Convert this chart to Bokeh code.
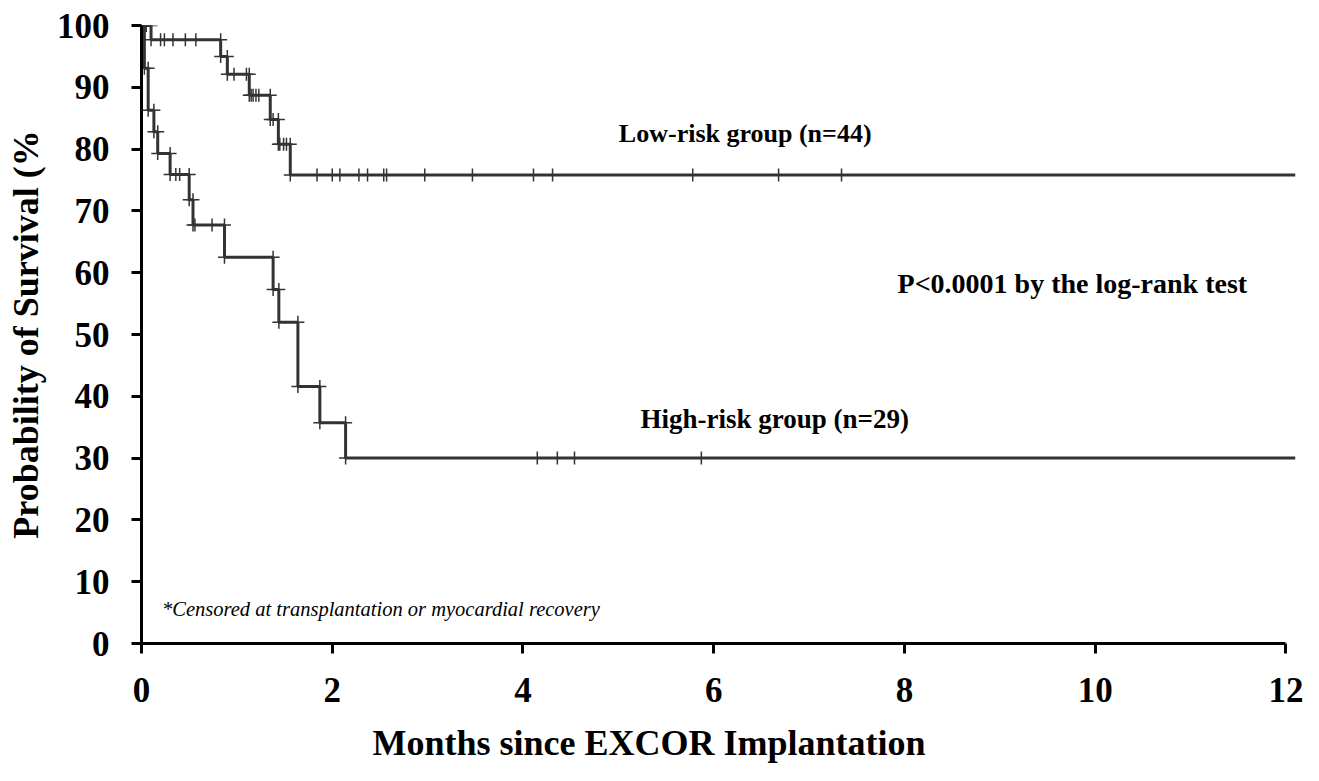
import numpy as np
from bokeh.plotting import figure
from bokeh.models import Range1d, FixedTicker, Label, Title
from bokeh.embed import file_html
from bokeh.resources import INLINE

# Kaplan-Meier estimates (months, % surviving)
low_times = [0.0, 0.10, 0.83, 0.90, 1.13, 1.35, 1.435, 1.56]
low_surv = [100.0, 97.7, 95.0, 92.1, 88.7, 84.8, 80.8, 75.8]
low_censored = [0.02, 0.05, 0.20, 0.24, 0.33, 0.46, 0.57, 0.97, 1.10, 1.15, 1.17,
                1.20, 1.23, 1.38, 1.45, 1.49, 1.52, 1.84, 2.00, 2.08, 2.28, 2.37,
                2.54, 2.57, 2.97, 3.47, 4.11, 4.31, 5.78, 6.68, 7.34]

high_times = [0.0, 0.03, 0.07, 0.13, 0.17, 0.30, 0.50, 0.54, 0.87, 1.38, 1.44,
              1.64, 1.87, 2.14]
high_surv = [100.0, 93.1, 86.3, 82.8, 79.3, 75.9, 71.8, 67.7, 62.5, 57.3, 52.0,
             41.6, 35.7, 30.0]
high_censored = [0.36, 0.40, 0.56, 0.74, 4.15, 4.36, 4.54, 5.87]

follow_up_end = 12.1
x_ticks = [0, 2, 4, 6, 8, 10, 12]
y_ticks = [0, 10, 20, 30, 40, 50, 60, 70, 80, 90, 100]

FONT = "Liberation Serif"
CURVE = "#333333"

p = figure(width=1319, height=781,
           x_range=Range1d(0, follow_up_end), y_range=Range1d(0, 100),
           output_backend="svg", toolbar_location=None,
           min_border_left=141, min_border_right=24,
           min_border_top=25, min_border_bottom=138)
p.outline_line_color = None
p.xgrid.visible = False
p.ygrid.visible = False
p.background_fill_color = "white"
p.border_fill_color = "white"

for ax in (p.xaxis[0], p.yaxis[0]):
    ax.axis_line_width = 3
    ax.axis_line_color = "black"
    ax.major_tick_line_width = 3
    ax.major_tick_line_color = "black"
    ax.major_tick_out = 10
    ax.major_tick_in = 0
    ax.minor_tick_line_color = None
    ax.major_label_text_font = FONT
    ax.major_label_text_font_style = "bold"
    ax.major_label_text_font_size = "35px"
    ax.major_label_text_color = "black"
    ax.axis_label_text_font = FONT
    ax.axis_label_text_font_style = "bold"
    ax.axis_label_text_font_size = "36px"
    ax.axis_label_text_color = "black"

p.xaxis[0].ticker = FixedTicker(ticks=x_ticks)
p.xaxis[0].bounds = (0, 12)
p.xaxis[0].major_label_standoff = 24
p.yaxis[0].ticker = FixedTicker(ticks=y_ticks)
p.yaxis[0].major_label_standoff = 22
p.yaxis[0].axis_label = "Probability of Survival (%"
p.yaxis[0].axis_label_standoff = 8

p.add_layout(Title(text="Months since EXCOR Implantation", align="left", offset=231,
                   standoff=32, text_font=FONT, text_font_style="bold",
                   text_font_size="36px", text_color="black"), "below")


def survival_at(times, surv, t):
    idx = np.searchsorted(np.asarray(times), np.asarray(t), side="right") - 1
    return np.asarray(surv)[idx]


def draw_group(times, surv, censored):
    xs = list(times) + [follow_up_end]
    ys = list(surv) + [surv[-1]]
    p.step(xs, ys, mode="after", line_width=3, line_color=CURVE)
    # crosses at both ends of every drop
    cx, cy = [], []
    for i in range(1, len(times)):
        cx += [times[i], times[i]]
        cy += [surv[i - 1], surv[i]]
    cx += list(censored)
    cy += list(survival_at(times, surv, censored))
    p.scatter(cx, cy, marker="cross", size=13, line_width=1.5, line_color=CURVE)


draw_group(low_times, low_surv, low_censored)
draw_group(high_times, high_surv, high_censored)


def add_text(x, y, text, size, style="bold", align="center"):
    p.add_layout(Label(x=x, y=y, text=text, text_font=FONT,
                       text_font_style=style, text_font_size=size,
                       text_align=align, text_baseline="middle",
                       text_color="black"))


add_text(6.33, 82.6, "Low-risk group (n=44)", "26px")
add_text(9.76, 58.3, "P<0.0001 by the log-rank test", "28px")
add_text(6.64, 36.3, "High-risk group (n=29)", "27px")
add_text(0.215, 5.6, "*Censored at transplantation or myocardial recovery", "20.5px",
         style="italic", align="left")

open("out.html", "w").write(file_html(p, INLINE))
